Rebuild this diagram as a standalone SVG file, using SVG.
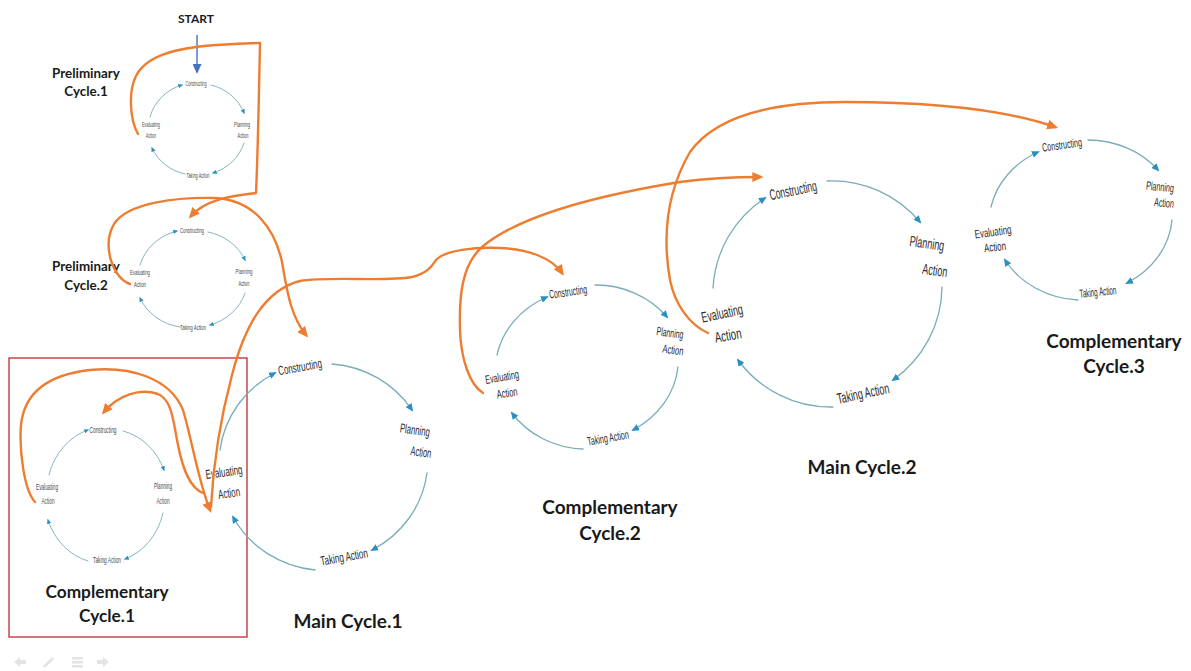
<svg xmlns="http://www.w3.org/2000/svg" width="1191" height="671" viewBox="0 0 1191 671">
  <style>
    .bg { fill: #ffffff; }
    .arc { fill: none; stroke: #78adb9; stroke-width: 1.3; stroke-linecap: round; }
    .arc-s { fill: none; stroke: #78adb9; stroke-width: 0.9; stroke-linecap: round; }
    .link { fill: none; stroke: #ed7d31; stroke-width: 2.4; stroke-linecap: round; stroke-linejoin: round; }
    .t { font-family: "Liberation Sans", Arial, sans-serif; fill: #2a2a2a; text-anchor: middle; dominant-baseline: central; }
    .ts { font-family: "Liberation Sans", Arial, sans-serif; fill: #4a4a4a; text-anchor: middle; dominant-baseline: central; }
    .title { font-family: Lato, "Open Sans", sans-serif; font-weight: bold; fill: #1a1a1a; text-anchor: middle; }
    .nav { fill: #e4e4e4; stroke: none; }
  </style>
  <defs>
    <marker id="arrowBlue" viewBox="0 0 8 7" refX="6" refY="3.5" markerWidth="8" markerHeight="7" markerUnits="userSpaceOnUse" orient="auto">
      <path d="M0,0 L8,3.5 L0,7 z" fill="#2b8fc2"/>
    </marker>
    <marker id="arrowBlueSm" viewBox="0 0 8 7" refX="6" refY="3.5" markerWidth="5" markerHeight="4.4" markerUnits="userSpaceOnUse" orient="auto">
      <path d="M0,0 L8,3.5 L0,7 z" fill="#2b8fc2"/>
    </marker>
    <marker id="arrowOrange" viewBox="0 0 10 9" refX="7" refY="4.5" markerWidth="11" markerHeight="10" markerUnits="userSpaceOnUse" orient="auto">
      <path d="M0,0 L10,4.5 L0,9 z" fill="#ed7d31"/>
    </marker>
    <marker id="arrowStart" viewBox="0 0 10 9" refX="8" refY="4.5" markerWidth="10" markerHeight="9" markerUnits="userSpaceOnUse" orient="auto">
      <path d="M0,0 L10,4.5 L0,9 z" fill="#4472c4"/>
    </marker>
  </defs>

  <rect class="bg" x="0" y="0" width="1191" height="671"/>

  <!-- Preliminary cycle 1 -->
  <g id="preliminary-cycle-1">
    <path class="arc-s" d="M211,85 A47,45 0 0 1 244,113" marker-end="url(#arrowBlueSm)"/>
    <path class="arc-s" d="M244,143 A47,45 0 0 1 213,173" marker-end="url(#arrowBlueSm)"/>
    <path class="arc-s" d="M185,174 A47,45 0 0 1 152,148" marker-end="url(#arrowBlueSm)"/>
    <path class="arc-s" d="M150,117 A47,45 0 0 1 182,85" marker-end="url(#arrowBlueSm)"/>
    <text class="ts" x="196" y="83" font-size="7.5" textLength="21" lengthAdjust="spacingAndGlyphs">Constructing</text>
    <text class="ts" x="242" y="124" font-size="7.5" textLength="16" lengthAdjust="spacingAndGlyphs">Planning</text>
    <text class="ts" x="243" y="135" font-size="7.5" textLength="11" lengthAdjust="spacingAndGlyphs">Action</text>
    <text class="ts" x="198" y="175" font-size="7.5" textLength="23" lengthAdjust="spacingAndGlyphs">Taking Action</text>
    <text class="ts" x="151" y="124" font-size="7.5" textLength="18" lengthAdjust="spacingAndGlyphs">Evaluating</text>
    <text class="ts" x="151" y="135" font-size="7.5" textLength="10" lengthAdjust="spacingAndGlyphs">Action</text>
    <text class="title" x="86" y="78" font-size="13.4">Preliminary</text>
    <text class="title" x="86" y="96" font-size="13.4">Cycle.1</text>
  </g>

  <!-- Preliminary cycle 2 -->
  <g id="preliminary-cycle-2">
    <path class="arc-s" d="M208,232 A52,48 0 0 1 245,260" marker-end="url(#arrowBlueSm)"/>
    <path class="arc-s" d="M245,293 A52,48 0 0 1 210,325" marker-end="url(#arrowBlueSm)"/>
    <path class="arc-s" d="M180,327 A52,48 0 0 1 140,298" marker-end="url(#arrowBlueSm)"/>
    <path class="arc-s" d="M140,265 A52,48 0 0 1 177,231" marker-end="url(#arrowBlueSm)"/>
    <text class="ts" x="192" y="230" font-size="7.5" textLength="24" lengthAdjust="spacingAndGlyphs">Constructing</text>
    <text class="ts" x="244" y="271" font-size="7.5" textLength="17" lengthAdjust="spacingAndGlyphs">Planning</text>
    <text class="ts" x="244" y="283" font-size="7.5" textLength="11" lengthAdjust="spacingAndGlyphs">Action</text>
    <text class="ts" x="193" y="327" font-size="7.5" textLength="26" lengthAdjust="spacingAndGlyphs">Taking Action</text>
    <text class="ts" x="140" y="272" font-size="7.5" textLength="20" lengthAdjust="spacingAndGlyphs">Evaluating</text>
    <text class="ts" x="140" y="284" font-size="7.5" textLength="12" lengthAdjust="spacingAndGlyphs">Action</text>
    <text class="title" x="86" y="271" font-size="13.4">Preliminary</text>
    <text class="title" x="86" y="290" font-size="13.4">Cycle.2</text>
  </g>

  <!-- Complementary cycle 1 -->
  <g id="complementary-cycle-1">
    <rect x="9" y="358" width="238" height="279" fill="none" stroke="#c0282d" stroke-width="1.3"/>
    <path class="arc-s" d="M123,431 A58,65 0 0 1 164,470" marker-end="url(#arrowBlueSm)"/>
    <path class="arc-s" d="M163,513 A58,65 0 0 1 125,559" marker-end="url(#arrowBlueSm)"/>
    <path class="arc-s" d="M88,561 A58,65 0 0 1 48,520" marker-end="url(#arrowBlueSm)"/>
    <path class="arc-s" d="M49,475 A58,65 0 0 1 88,430" marker-end="url(#arrowBlueSm)"/>
    <text class="ts" x="103" y="430" font-size="9" textLength="27" lengthAdjust="spacingAndGlyphs">Constructing</text>
    <text class="ts" x="163" y="486" font-size="9" textLength="18" lengthAdjust="spacingAndGlyphs">Planning</text>
    <text class="ts" x="163" y="501" font-size="9" textLength="13" lengthAdjust="spacingAndGlyphs">Action</text>
    <text class="ts" x="107" y="560" font-size="9" textLength="28" lengthAdjust="spacingAndGlyphs">Taking Action</text>
    <text class="ts" x="47" y="487" font-size="9" textLength="22" lengthAdjust="spacingAndGlyphs">Evaluating</text>
    <text class="ts" x="48" y="501" font-size="9" textLength="13" lengthAdjust="spacingAndGlyphs">Action</text>
    <text class="title" x="107" y="598" font-size="17.3">Complementary</text>
    <text class="title" x="107" y="622" font-size="17.3">Cycle.1</text>
  </g>

  <!-- Main cycle 1 -->
  <g id="main-cycle-1">
    <path class="arc" d="M332,364 A105,102 0 0 1 412,410" marker-end="url(#arrowBlue)"/>
    <path class="arc" d="M427,473 A105,102 0 0 1 372,550" marker-end="url(#arrowBlue)"/>
    <path class="arc" d="M315,570 A105,102 0 0 1 233,517" marker-end="url(#arrowBlue)"/>
    <path class="arc" d="M220,450 A105,102 0 0 1 275,373" marker-end="url(#arrowBlue)"/>
    <text class="t" transform="translate(300,367) rotate(-10)" font-size="13" textLength="44" lengthAdjust="spacingAndGlyphs">Constructing</text>
    <text class="t" transform="translate(415,430) rotate(8)" font-size="13" textLength="30" lengthAdjust="spacingAndGlyphs">Planning</text>
    <text class="t" transform="translate(421,452) rotate(8)" font-size="13" textLength="21" lengthAdjust="spacingAndGlyphs">Action</text>
    <text class="t" transform="translate(344,557) rotate(-10)" font-size="13" textLength="48" lengthAdjust="spacingAndGlyphs">Taking Action</text>
    <text class="t" transform="translate(224,472) rotate(-8)" font-size="13" textLength="37" lengthAdjust="spacingAndGlyphs">Evaluating</text>
    <text class="t" transform="translate(229,493) rotate(-8)" font-size="13" textLength="22" lengthAdjust="spacingAndGlyphs">Action</text>
    <text class="title" x="348" y="628" font-size="19">Main Cycle.1</text>
  </g>

  <!-- Complementary cycle 2 -->
  <g id="complementary-cycle-2">
    <path class="arc" d="M595,285 A90,82 0 0 1 667,317" marker-end="url(#arrowBlue)"/>
    <path class="arc" d="M678,367 A90,82 0 0 1 633,430" marker-end="url(#arrowBlue)"/>
    <path class="arc" d="M583,449 A90,82 0 0 1 512,413" marker-end="url(#arrowBlue)"/>
    <path class="arc" d="M497,355 A90,82 0 0 1 547,297" marker-end="url(#arrowBlue)"/>
    <text class="t" transform="translate(568,292) rotate(-8)" font-size="12" textLength="38" lengthAdjust="spacingAndGlyphs">Constructing</text>
    <text class="t" transform="translate(670,333) rotate(8)" font-size="12" textLength="27" lengthAdjust="spacingAndGlyphs">Planning</text>
    <text class="t" transform="translate(673,350) rotate(8)" font-size="12" textLength="21" lengthAdjust="spacingAndGlyphs">Action</text>
    <text class="t" transform="translate(608,438) rotate(-10)" font-size="12" textLength="42" lengthAdjust="spacingAndGlyphs">Taking Action</text>
    <text class="t" transform="translate(502,377) rotate(-10)" font-size="12" textLength="34" lengthAdjust="spacingAndGlyphs">Evaluating</text>
    <text class="t" transform="translate(507,393) rotate(-8)" font-size="12" textLength="21" lengthAdjust="spacingAndGlyphs">Action</text>
    <text class="title" x="610" y="514" font-size="19">Complementary</text>
    <text class="title" x="610" y="540" font-size="19">Cycle.2</text>
  </g>

  <!-- Main cycle 2 -->
  <g id="main-cycle-2">
    <path class="arc" d="M827,181 A115,115 0 0 1 920,222" marker-end="url(#arrowBlue)"/>
    <path class="arc" d="M942,287 A115,115 0 0 1 893,380" marker-end="url(#arrowBlue)"/>
    <path class="arc" d="M833,407 A115,115 0 0 1 738,360" marker-end="url(#arrowBlue)"/>
    <path class="arc" d="M713,288 A115,115 0 0 1 765,198" marker-end="url(#arrowBlue)"/>
    <text class="t" transform="translate(793,190) rotate(-12)" font-size="15" textLength="48" lengthAdjust="spacingAndGlyphs">Constructing</text>
    <text class="t" transform="translate(927,243) rotate(8)" font-size="15" textLength="35" lengthAdjust="spacingAndGlyphs">Planning</text>
    <text class="t" transform="translate(935,270) rotate(8)" font-size="15" textLength="25" lengthAdjust="spacingAndGlyphs">Action</text>
    <text class="t" transform="translate(863,393) rotate(-12)" font-size="15" textLength="53" lengthAdjust="spacingAndGlyphs">Taking Action</text>
    <text class="t" transform="translate(722,313) rotate(-12)" font-size="15" textLength="42" lengthAdjust="spacingAndGlyphs">Evaluating</text>
    <text class="t" transform="translate(728,335) rotate(-10)" font-size="15" textLength="27" lengthAdjust="spacingAndGlyphs">Action</text>
    <text class="title" x="862" y="474" font-size="19">Main Cycle.2</text>
  </g>

  <!-- Complementary cycle 3 -->
  <g id="complementary-cycle-3">
    <path class="arc" d="M1088,140 A90,80 0 0 1 1158,170" marker-end="url(#arrowBlue)"/>
    <path class="arc" d="M1172,220 A90,80 0 0 1 1127,283" marker-end="url(#arrowBlue)"/>
    <path class="arc" d="M1078,300 A90,80 0 0 1 1005,260" marker-end="url(#arrowBlue)"/>
    <path class="arc" d="M991,207 A90,80 0 0 1 1038,152" marker-end="url(#arrowBlue)"/>
    <text class="t" transform="translate(1062,145) rotate(-8)" font-size="12" textLength="40" lengthAdjust="spacingAndGlyphs">Constructing</text>
    <text class="t" transform="translate(1160,187) rotate(6)" font-size="12" textLength="28" lengthAdjust="spacingAndGlyphs">Planning</text>
    <text class="t" transform="translate(1164,203) rotate(6)" font-size="12" textLength="20" lengthAdjust="spacingAndGlyphs">Action</text>
    <text class="t" transform="translate(1098,292) rotate(-6)" font-size="12" textLength="37" lengthAdjust="spacingAndGlyphs">Taking Action</text>
    <text class="t" transform="translate(993,232) rotate(-8)" font-size="12" textLength="37" lengthAdjust="spacingAndGlyphs">Evaluating</text>
    <text class="t" transform="translate(995,247) rotate(-6)" font-size="12" textLength="22" lengthAdjust="spacingAndGlyphs">Action</text>
    <text class="title" x="1114" y="348" font-size="19">Complementary</text>
    <text class="title" x="1114" y="373" font-size="19">Cycle.3</text>
  </g>

  <!-- Start marker -->
  <g id="start">
    <text class="title" x="196" y="23" font-size="12">START</text>
  </g>

  <!-- Transitions between cycles -->
  <g id="connectors">
    <path d="M197,35 L197,72" fill="none" stroke="#4472c4" stroke-width="1.4" marker-end="url(#arrowStart)"/>
    <path class="link" d="M138,134 C130,120 128,92 136,76 C146,56 175,48 215,45 C235,44 250,43 260,43 C259,90 258,150 256,193 C230,196 205,200 191,216" marker-end="url(#arrowOrange)"/>
    <path class="link" d="M130,284 C112,278 102,245 114,224 C128,202 180,197 215,198 C255,200 275,230 282,262 C287,290 290,315 306,335" marker-end="url(#arrowOrange)"/>
    <path class="link" d="M211,507 C213,470 220,420 232,375 C245,325 265,290 300,281 C330,276 385,282 412,277 C428,273 432,266 436,260 C445,250 475,247 500,248 C528,249 552,258 562,273" marker-end="url(#arrowOrange)"/>
    <path class="link" d="M35,502 C24,490 19,450 21,425 C24,395 45,375 90,370 C130,366 170,378 183,410 C192,440 198,480 210,510" marker-end="url(#arrowOrange)"/>
    <path class="link" d="M203,493 C190,488 183,470 178,445 C173,420 172,400 158,394 C140,388 118,395 104,412" marker-end="url(#arrowOrange)"/>
    <path class="link" d="M483,393 C470,385 461,360 460,330 C459,295 462,265 482,247 C520,215 600,195 680,182 C710,178 740,177 760,177" marker-end="url(#arrowOrange)"/>
    <path class="link" d="M708,333 C690,325 675,305 670,280 C663,240 665,195 690,152 C720,110 790,102 845,102 C920,102 1000,108 1055,127" marker-end="url(#arrowOrange)"/>
  </g>

  <!-- Slide navigation controls -->
  <g id="nav-controls">
    <path class="nav" d="M14,662 L20,657 L20,660 L26,660 L26,664 L20,664 L20,667 z"/>
    <path class="nav" d="M42,667 L44,665 L52,657 L54,659 L46,667 z"/>
    <rect class="nav" x="72" y="657" width="11" height="2.5"/>
    <rect class="nav" x="72" y="661" width="11" height="2.5"/>
    <rect class="nav" x="72" y="665" width="11" height="2.5"/>
    <path class="nav" d="M109,662 L103,657 L103,660 L97,660 L97,664 L103,664 L103,667 z"/>
  </g>
</svg>
